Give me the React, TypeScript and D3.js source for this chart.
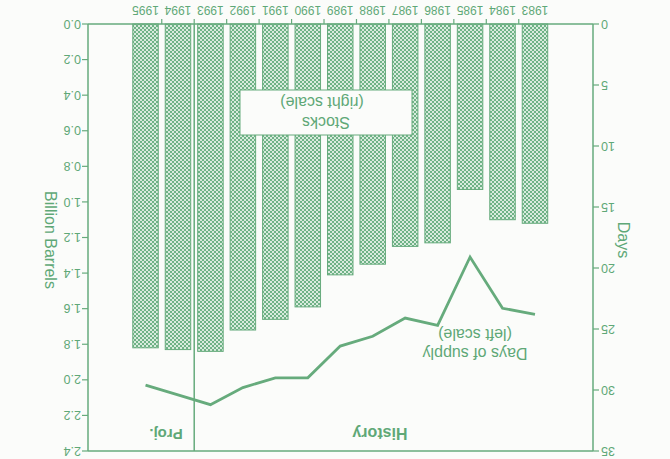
import React from "react";
import * as d3 from "d3";

const years = ["1983","1984","1985","1986","1987","1988","1989","1990","1991","1992","1993","1994","1995"];
const stocks = [1.12, 1.10, 0.93, 1.23, 1.25, 1.35, 1.41, 1.59, 1.66, 1.72, 1.84, 1.83, 1.82];
const daysSupply = [23.8, 23.3, 19.1, 24.7, 24.1, 25.6, 26.4, 29.0, 29.0, 29.8, 31.2, 30.4, 29.6];
const daysTicks = [0, 5, 10, 15, 20, 25, 30, 35];
const bblTicks = [0, 0.2, 0.4, 0.6, 0.8, 1.0, 1.2, 1.4, 1.6, 1.8, 2.0, 2.2, 2.4];
const projStart = "1994";

const W = 670, H = 459;
const GREEN = "#66ab7c";
const TEXT = "#5fa877";
const FONT = "'Liberation Sans', Arial, sans-serif";

export default function App() {
  const left = 77, right = 582, top = 8, bottom = 435;
  const x = d3.scaleBand<string>().domain(years).range([118.8, 540.7]).padding(0);
  const bw = x.bandwidth() * 0.785;
  const yBbl = d3.scaleLinear().domain([0, 2.4]).range([bottom, top]);
  const yDays = d3.scaleLinear().domain([0, 35]).range([bottom, top]);
  const line = d3.line<number>()
    .x((_, i) => (x(years[i]) as number) + x.bandwidth() / 2)
    .y((d) => yDays(d));
  const projX = x(projStart) as number;
  const boundaries = years.slice(1).map((y) => x(y) as number);

  return (
    <svg width={W} height={H} style={{ position: "absolute", left: 0, top: 0, background: "#fbfcfa" }}>
      <defs>
        <pattern id="chk" width="4" height="4" patternUnits="userSpaceOnUse">
          <rect width="4" height="4" fill="#d8ebdd" />
          <rect width="2" height="2" fill="#6fb286" />
          <rect x="2" y="2" width="2" height="2" fill="#6fb286" />
        </pattern>
      </defs>
      <g transform={`rotate(180 ${W / 2} ${H / 2})`} fontFamily={FONT}>
        {years.map((yr, i) => (
          <rect key={yr}
            x={(x(yr) as number) + (x.bandwidth() - bw) / 2}
            y={yBbl(stocks[i])}
            width={bw}
            height={bottom - yBbl(stocks[i])}
            fill="url(#chk)" stroke={GREEN} strokeWidth={1} />
        ))}
        <line x1={left} x2={right} y1={top} y2={top} stroke={GREEN} strokeWidth={1.5} />
        <line x1={left} x2={right} y1={bottom} y2={bottom} stroke={GREEN} strokeWidth={1.5} />
        <line x1={left} x2={left} y1={top} y2={bottom} stroke={GREEN} strokeWidth={1.5} />
        <line x1={right} x2={right} y1={top} y2={bottom} stroke={GREEN} strokeWidth={1.5} />
        <line x1={projX} x2={projX} y1={top} y2={bottom} stroke={GREEN} strokeWidth={1.5} />
        {boundaries.map((b, i) => (
          <line key={i} x1={b} x2={b} y1={bottom} y2={bottom + 5} stroke={GREEN} strokeWidth={1.2} />
        ))}
        {years.map((yr) => (
          <text key={yr} x={(x(yr) as number) + x.bandwidth() / 2} y={453} textAnchor="middle"
            fontSize={12} fill={TEXT}>{yr}</text>
        ))}
        {daysTicks.map((t) => (
          <g key={t}>
            <line x1={left - 6} x2={left} y1={yDays(t)} y2={yDays(t)} stroke={GREEN} strokeWidth={1.2} />
            <text x={left - 8} y={yDays(t)} dy="0.35em" textAnchor="end" fontSize={12.5} fill={TEXT}>{t}</text>
          </g>
        ))}
        {bblTicks.map((t) => (
          <g key={t}>
            <line x1={right} x2={right + 6} y1={yBbl(t)} y2={yBbl(t)} stroke={GREEN} strokeWidth={1.2} />
            <text x={right + 7} y={yBbl(t)} dy="0.35em" textAnchor="start" fontSize={12.5} fill={TEXT}>{t.toFixed(1)}</text>
          </g>
        ))}
        <text transform={`translate(46,219) rotate(-90)`} textAnchor="middle" dy="0.35em" fontSize={16} fill={TEXT}>Days</text>
        <text transform={`translate(619,219) rotate(-90)`} textAnchor="middle" dy="0.35em" fontSize={16} fill={TEXT}>Billion Barrels</text>
        <path d={line(daysSupply) || ""} fill="none" stroke={GREEN} strokeWidth={2.8} strokeLinejoin="miter" />
        <text x={290} y={25} dy="0.35em" textAnchor="middle" fontSize={16} fontWeight="bold" fill={TEXT}>History</text>
        <text x={504} y={25} dy="0.35em" textAnchor="middle" fontSize={15} fontWeight="bold" fill={TEXT}>Proj.</text>
        <rect x={258} y={324} width={172} height={45} fill="#fbfcfa" stroke={GREEN} strokeWidth={1} />
        <text x={344} y={336} dy="0.35em" textAnchor="middle" fontSize={16} fill={TEXT}>Stocks</text>
        <text x={348} y={356} dy="0.35em" textAnchor="middle" fontSize={16} fill={TEXT}>(right scale)</text>
        <text x={195} y={105} dy="0.35em" textAnchor="middle" fontSize={16} fill={TEXT}>Days of supply</text>
        <text x={195} y={124} dy="0.35em" textAnchor="middle" fontSize={16} fill={TEXT}>(left scale)</text>
      </g>
    </svg>
  );
}
